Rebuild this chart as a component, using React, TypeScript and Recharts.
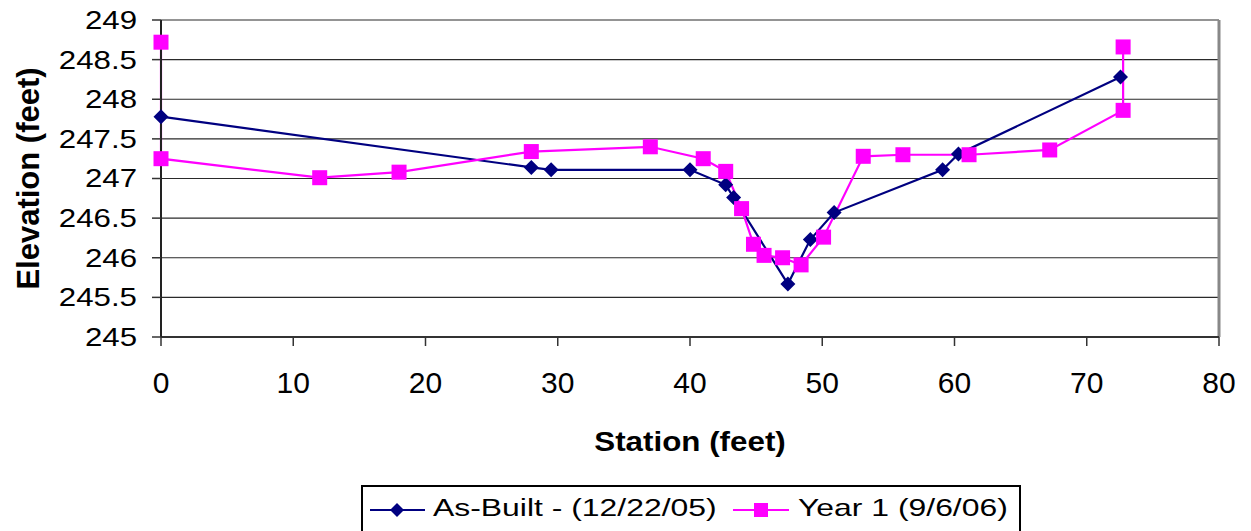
import { LineChart, Line, XAxis, YAxis, CartesianGrid, ReferenceLine, Label } from "recharts";

// stations (ft) and elevations (ft)
const asBuiltStation = [0, 28, 29.5, 40, 42.7, 43.3, 47.4, 49.1, 50.9, 59.1, 60.3, 72.55];
const asBuiltElevation = [247.78, 247.14, 247.11, 247.11, 246.92, 246.76, 245.67, 246.23, 246.57, 247.11, 247.31, 248.28];

const year1Station = [0, 0, 12, 18, 28, 37, 41, 42.7, 43.9, 44.8, 45.6, 47.0, 48.4, 50.1, 53.1, 56.1, 61.1, 67.2, 72.75, 72.75];
const year1Elevation = [248.72, 247.25, 247.01, 247.08, 247.34, 247.4, 247.25, 247.09, 246.62, 246.17, 246.03, 246.0, 245.91, 246.26, 247.28, 247.3, 247.3, 247.36, 247.86, 248.66];

const xTicks = [0, 10, 20, 30, 40, 50, 60, 70, 80];
const yTicks = [245, 245.5, 246, 246.5, 247, 247.5, 248, 248.5, 249];

const NAVY = "#000080";
const MAGENTA = "#ff00ff";
const FONT = "'Liberation Sans', Arial, sans-serif";

const asBuilt = asBuiltStation.map((s, i) => ({ station: s, elevation: asBuiltElevation[i] }));
const year1 = year1Station.map((s, i) => ({ station: s, elevation: year1Elevation[i] }));

const Diamond = (p: any) => {
  if (p.cx == null || p.cy == null) return <g key={p.index} />;
  const r = 7.5;
  return (
    <path
      key={p.index}
      d={`M${p.cx},${p.cy - r}L${p.cx + r},${p.cy}L${p.cx},${p.cy + r}L${p.cx - r},${p.cy}Z`}
      fill={NAVY}
    />
  );
};

const Square = (p: any) => {
  if (p.cx == null || p.cy == null) return <g key={p.index} />;
  const h = 7.5;
  return <rect key={p.index} x={p.cx - h} y={p.cy - h} width={h * 2} height={h * 2} fill={MAGENTA} />;
};

const YTick = (p: any) => (
  <g transform={`translate(${p.x},${p.y}) scale(1.25,1)`}>
    <text x={0} y={0} dy="0.355em" textAnchor="end" fontSize={25} fill="#000" fontFamily={FONT}>
      {p.payload.value}
    </text>
  </g>
);

const XTick = (p: any) => (
  <g transform={`translate(${p.x},${p.y})`}>
    <text x={0} y={0} dy="0.71em" textAnchor="middle" fontSize={30} fill="#000" fontFamily={FONT}>
      {p.payload.value}
    </text>
  </g>
);

const XTitle = (p: any) => {
  const vb = p.viewBox;
  return (
    <g transform={`translate(${vb.x + vb.width / 2},${vb.y + 114}) scale(1.12,1)`}>
      <text x={0} y={0} textAnchor="middle" fontSize={28} fontWeight="bold" fill="#000" fontFamily={FONT}>
        Station (feet)
      </text>
    </g>
  );
};

const YTitle = (p: any) => {
  const vb = p.viewBox;
  return (
    <g transform={`translate(39,${vb.y + vb.height / 2}) rotate(-90)`}>
      <text x={0} y={0} textAnchor="middle" fontSize={31} fontWeight="bold" fill="#000" fontFamily={FONT}>
        Elevation (feet)
      </text>
    </g>
  );
};

function LegendBox() {
  return (
    <svg
      width={660}
      height={46}
      style={{ position: "absolute", left: 361, top: 485 }}
    >
      <rect x={1} y={1} width={658} height={60} fill="#fff" stroke="#000" strokeWidth={2} />
      <line x1={9} x2={64} y1={25} y2={25} stroke={NAVY} strokeWidth={2} />
      <path d="M36,18L43,25L36,32L29,25Z" fill={NAVY} />
      <g transform="translate(72,31) scale(1.33,1)">
        <text x={0} y={0} fontSize={24} fill="#000" fontFamily={FONT}>
          As-Built - (12/22/05)
        </text>
      </g>
      <line x1={372} x2={428} y1={25} y2={25} stroke={MAGENTA} strokeWidth={2} />
      <rect x={393} y={18} width={14} height={14} fill={MAGENTA} />
      <g transform="translate(437,31) scale(1.33,1)">
        <text x={0} y={0} fontSize={24} fill="#000" fontFamily={FONT}>
          Year 1 (9/6/06)
        </text>
      </g>
    </svg>
  );
}

export default function App() {
  return (
    <div style={{ position: "absolute", left: 0, top: 0, width: 1251, height: 531, background: "#fff", overflow: "hidden" }}>
      <LineChart width={1251} height={531} margin={{ top: 20, right: 32, bottom: 74, left: 0 }}>
        <CartesianGrid vertical={false} stroke="#2a2a2a" strokeWidth={1.2} />
        <XAxis
          dataKey="station"
          type="number"
          domain={[0, 80]}
          ticks={xTicks}
          allowDuplicatedCategory={false}
          height={120}
          tickSize={9}
          tickMargin={26}
          tick={XTick}
          axisLine={{ stroke: "#333", strokeWidth: 2 }}
          tickLine={{ stroke: "#333", strokeWidth: 1.5 }}
        >
          <Label content={XTitle} />
        </XAxis>
        <YAxis
          type="number"
          domain={[245, 249]}
          ticks={yTicks}
          width={161}
          tickSize={9}
          tickMargin={15}
          tick={YTick}
          axisLine={{ stroke: "#222", strokeWidth: 2 }}
          tickLine={{ stroke: "#333", strokeWidth: 1.5 }}
        >
          <Label content={YTitle} />
        </YAxis>
        <ReferenceLine x={80} stroke="#888" strokeWidth={3} />
        <Line
          data={asBuilt}
          dataKey="elevation"
          type="linear"
          stroke={NAVY}
          strokeWidth={2.2}
          dot={false}
          activeDot={false}
          isAnimationActive={false}
        />
        <Line
          data={year1}
          dataKey="elevation"
          type="linear"
          stroke={MAGENTA}
          strokeWidth={2.2}
          dot={false}
          activeDot={false}
          isAnimationActive={false}
        />
        <Line
          data={asBuilt}
          dataKey="elevation"
          type="linear"
          stroke="none"
          dot={Diamond}
          activeDot={false}
          isAnimationActive={false}
        />
        <Line
          data={year1}
          dataKey="elevation"
          type="linear"
          stroke="none"
          dot={Square}
          activeDot={false}
          isAnimationActive={false}
        />
      </LineChart>
      <LegendBox />
    </div>
  );
}
